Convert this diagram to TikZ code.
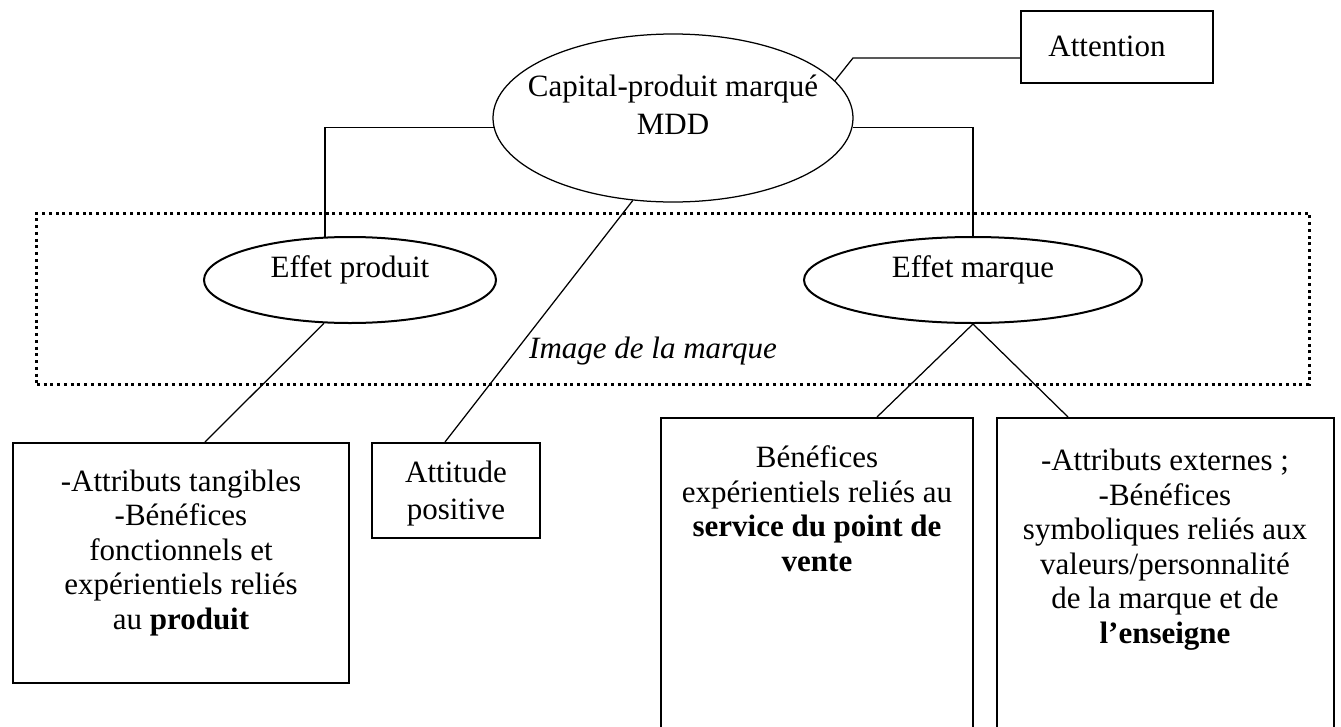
\documentclass[tikz,border=0pt]{standalone}
\usepackage{fontspec}
\setmainfont{Liberation Serif}
\usepackage{tikz}
\usetikzlibrary{calc}
\usetikzlibrary{shapes.geometric}
\tikzstyle{oval} = [ellipse, draw, line width=0.8pt, minimum height=34.4pt,
    inner sep=0pt, text height=3.6pt, text depth=6pt]
\tikzstyle{bigoval} = [ellipse, draw, line width=0.5pt, minimum width=144pt,
    minimum height=67.2pt, inner sep=0pt]
\tikzstyle{txtbox} = [rectangle, draw, line width=0.8pt, align=center,
    inner ysep=0pt, anchor=north]
\tikzstyle{zone} = [rectangle, draw, line width=1.2pt, dash pattern=on 1.2pt off 1.5pt,
    minimum width=508.8pt, minimum height=68.4pt, inner sep=0pt]
\tikzstyle{line} = [draw, line width=0.5pt]

\begin{document}
\begin{tikzpicture}[x=0.4pt, y=-0.4pt, font=\fontsize{12.4}{13.8}\selectfont]
    \useasboundingbox (0,0) rectangle (1341,727);
    \clip (0,0) rectangle (1341,727);
    % Place nodes
    \node [zone] (image) at (673,298.5) {};
    \node [anchor=base] (imagetxt) at (653,358) {\textit{Image de la marque}};
    \node [bigoval] (capital) at (673,118) {};
    \node [anchor=base, align=center] (capitaltxt) at (673,134) {Capital-produit marqué\\[1.4pt]MDD};
    \node [txtbox, minimum width=76.8pt, text height=18pt, text depth=10.8pt] (attention) at (1117,10) {Attention\hspace*{8pt}};
    \coordinate (attbend) at (853,58);
    \node [oval, minimum width=116.8pt] (eprod) at (350,280) {Effet produit};
    \node [oval, minimum width=135.2pt] (emarq) at (973,280) {Effet marque};
    \node [txtbox, minimum width=134.4pt, text height=74.4pt, text depth=21.6pt] (prodbox) at (181,442)
        {-Attributs tangibles\\-Bénéfices\\fonctionnels et\\expérientiels reliés\\au \textbf{produit}};
    \node [txtbox, minimum width=67.2pt, text height=30.4pt, text depth=7.6pt] (attitude) at (456,442)
        {Attitude\\[1pt]positive};
    \node [txtbox, minimum width=124.8pt, text height=61.2pt, text depth=64.8pt] (pdvbox) at (817,417)
        {Bénéfices\\expérientiels reliés au\\\textbf{service du point de}\\\textbf{vente}};
    \node [txtbox, minimum width=134.8pt, text height=90pt, text depth=36pt] (enseigne) at (1165,417)
        {-Attributs externes ;\\-Bénéfices\\symboliques reliés aux\\valeurs/personnalité\\de la marque et de\\\textbf{l’enseigne}};
    % Draw edges
    \path [line] (capital.183.5) -| (eprod.120.5);
    \path [line] (capital.-3.5) -| (emarq.north);
    \path [line] (capital.13) -- (attbend) -- (attbend -| attention.west);
    \path [line] (capital.244) -- ($(attitude.north)+(-11,0)$);
    \path [line] (eprod.239.5) -- ($(prodbox.north)+(24,0)$);
    \path [line] (emarq.south) -- ($(pdvbox.north)+(60,0)$);
    \path [line] (emarq.south) -- ($(enseigne.north)+(-97,0)$);
\end{tikzpicture}
\end{document}
